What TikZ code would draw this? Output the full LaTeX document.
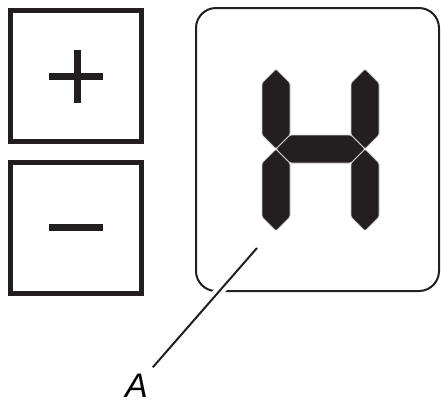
\documentclass[tikz,border=0pt]{standalone}
\usepackage{fontspec}
\setmainfont{Liberation Sans}
\definecolor{ink}{HTML}{231F20}
\tikzstyle{key} = [
    rectangle,
    minimum width=131pt,
    minimum height=131pt,
    inner sep=0pt,
    line width=5pt,
    draw=ink
]
\tikzstyle{sign} = [draw=ink, line width=7pt]
\tikzstyle{screen} = [
    rectangle,
    rounded corners=20pt,
    minimum width=243pt,
    minimum height=283pt,
    inner sep=0pt,
    line width=2pt,
    draw=ink
]
\tikzstyle{segment} = [fill=ink, draw=gray!40, line width=0.8pt, rounded corners=1.5pt]
\tikzstyle{leader} = [draw=ink, line width=2pt, preaction={draw=white, line width=10pt}]

\begin{document}
\begin{tikzpicture}[x=1pt, y=-1pt, node distance=151.5pt]
\useasboundingbox (0,0) rectangle (442,405);

\node (plusKey) [key] at (76,76) {};

\node (minusKey) [key, below of=plusKey] {};

\node (display) [screen] at (317.5,149.5) {};

\node (labelA) [inner sep=0.5pt, outer sep=6.5pt] at (136.5,386)
{\fontsize{34}{34}\selectfont\itshape A};

% plus and minus signs
\draw [sign] ([xshift=-27pt]plusKey.center) -- ([xshift=27pt]plusKey.center);
\draw [sign] ([xshift=1pt, yshift=26pt]plusKey.center) -- ([xshift=1pt, yshift=-27pt]plusKey.center);
\draw [sign] ([xshift=-27pt]minusKey.center) -- ([xshift=27pt]minusKey.center);

% the letter H
\draw [segment] (276,69) -- (290,83) -- (290,135) -- (276,149) -- (262,135) -- (262,83) -- cycle;
\draw [segment] (276,149) -- (290,163) -- (290,217) -- (276,231) -- (262,217) -- (262,163) -- cycle;
\draw [segment] (365,69) -- (379,83) -- (379,135) -- (365,149) -- (351,135) -- (351,83) -- cycle;
\draw [segment] (365,149) -- (379,163) -- (379,217) -- (365,231) -- (351,217) -- (351,163) -- cycle;
\draw [segment] (276,149) -- (290,135) -- (351,135) -- (365,149) -- (351,163) -- (290,163) -- cycle;

\coordinate (pointer) at (257,248);
\draw [leader] (pointer) -- (labelA);

\end{tikzpicture}
\end{document}
